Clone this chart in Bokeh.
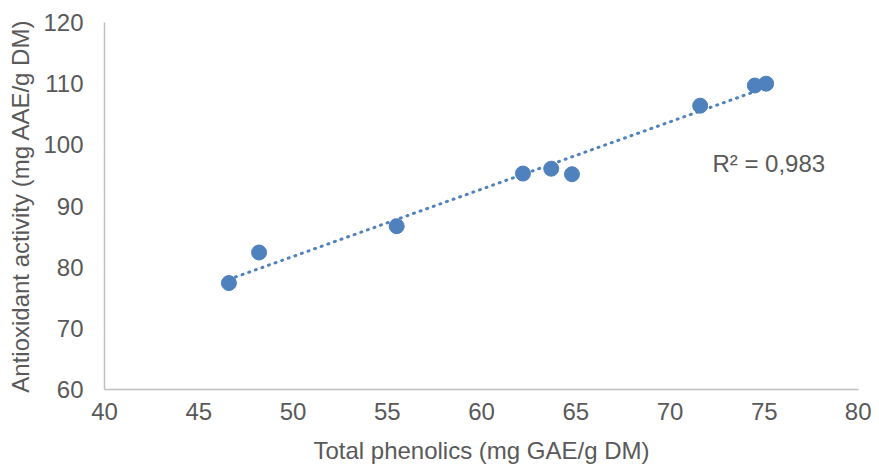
import numpy as np
from bokeh.plotting import figure
from bokeh.models import Range1d, Label
from bokeh.embed import file_html
from bokeh.resources import INLINE

# Data
phenolics = [46.6, 48.2, 55.5, 62.2, 63.7, 64.8, 71.6, 74.5, 75.1]
antioxidant = [77.4, 82.4, 86.7, 95.3, 96.1, 95.2, 106.4, 109.7, 110.0]
r2_label = "R² = 0,983"
x_title = "Total phenolics (mg GAE/g DM)"
y_title = "Antioxidant activity (mg AAE/g DM)"

FONT = "Liberation Sans"
GREY = "#595959"
BLUE = "#4F81BD"

p = figure(width=871, height=466, output_backend="svg", toolbar_location=None,
           x_range=Range1d(40, 80), y_range=Range1d(60, 120),
           min_border_left=104, min_border_top=22, min_border_bottom=77, min_border_right=13)
p.outline_line_color = None
p.xgrid.visible = False
p.ygrid.visible = False

for ax in (p.xaxis, p.yaxis):
    ax.axis_line_color = "#BFBFBF"
    ax.axis_line_width = 1.5
    ax.major_tick_line_color = None
    ax.minor_tick_line_color = None
    ax.major_tick_out = 0
    ax.major_tick_in = 0
    ax.major_label_text_font = FONT
    ax.major_label_text_font_size = "24px"
    ax.major_label_text_color = GREY
    ax.axis_label_text_font = FONT
    ax.axis_label_text_font_size = "24px"
    ax.axis_label_text_color = GREY
    ax.axis_label_text_font_style = "normal"

p.xaxis.ticker = [40, 45, 50, 55, 60, 65, 70, 75, 80]
p.yaxis.ticker = [60, 70, 80, 90, 100, 110, 120]
p.xaxis.axis_label = x_title
p.yaxis.axis_label = y_title
p.xaxis.major_label_standoff = 13
p.yaxis.major_label_standoff = 21
p.xaxis.axis_label_standoff = 14
p.yaxis.axis_label_standoff = 6

# Linear trendline
xs = np.array(phenolics)
ys = np.array(antioxidant)
m, b = np.polyfit(xs, ys, 1)
tx = np.array([xs.min(), xs.max()])
p.line(tx, m * tx + b, line_color=BLUE, line_width=3, line_dash="1 6", line_cap="round")

p.scatter(phenolics, antioxidant, size=15, fill_color=BLUE, line_color=BLUE, line_width=1)

p.add_layout(Label(x=72.25, y=96.9, text=r2_label, text_font=FONT, text_font_size="24px",
                   text_color=GREY, text_baseline="middle", text_align="left"))

open("out.html", "w").write(file_html(p, INLINE))
